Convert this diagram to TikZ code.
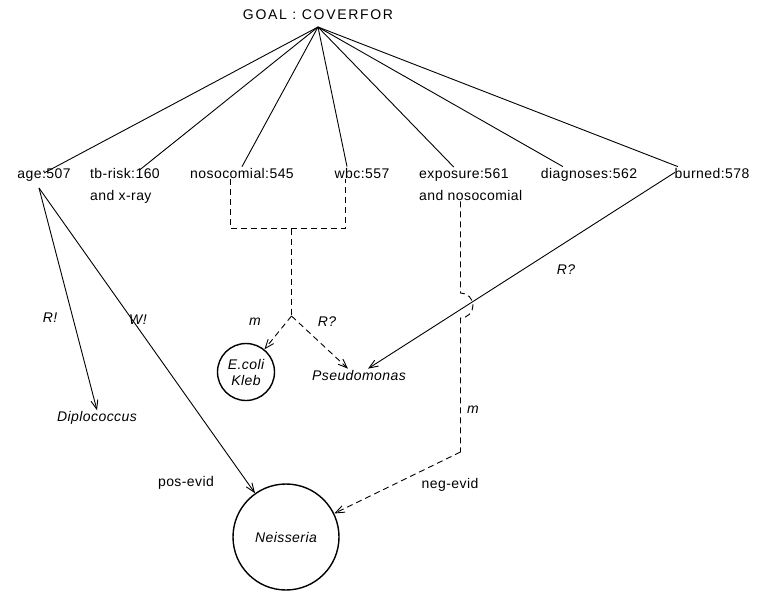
\documentclass[tikz,border=0pt]{standalone}
\usepackage{fontspec}
\setmainfont{Liberation Sans}[LetterSpace=3]
\usetikzlibrary{arrows.meta, positioning}

\begin{document}
\begin{tikzpicture}[x=1pt, y=-1pt, font=\fontsize{14}{22}\selectfont,
    >={Straight Barb[length=9pt, width=7pt]},
    lab/.style={inner sep=1pt},
    org/.style={inner sep=1pt, font=\fontsize{14}{22}\selectfont\itshape},
    rule/.style={line width=0.9pt},
    dsh/.style={line width=0.9pt, dash pattern=on 6pt off 4pt},
    cover/.style={circle, draw, line width=1.4pt, inner sep=0pt, align=center}]
    \useasboundingbox (0,0) rectangle (762,591);

    % Goal
    \node[lab, font=\fontsize{14}{22}\selectfont\addfontfeature{LetterSpace=12}] (goal) at (318,15) {GOAL : COVERFOR};
    \coordinate (apex) at (318,27);

    % Rules
    \node[lab, anchor=base] (age) at (44,178) {age:507};
    \node[lab, anchor=base west, align=left] (tbrisk) at (89,200) {tb-risk:160\\and x-ray};
    \node[lab, anchor=base] (noso) at (242,178) {nosocomial:545};
    \node[lab, anchor=base] (wbc) at (362,178) {wbc:557};
    \node[lab, anchor=base west, align=left] (expo) at (418,200) {exposure:561\\and nosocomial};
    \node[lab, anchor=base] (diag) at (589,178) {diagnoses:562};
    \node[lab, anchor=base] (burn) at (712,178) {burned:578};

    \draw[rule] (apex) -- ([yshift=-6]age.north);
    \draw[rule] (apex) -- ([xshift=15, yshift=-3]tbrisk.north);
    \draw[rule] (apex) -- (noso.north);
    \draw[rule] (apex) -- ([xshift=-15]wbc.north);
    \draw[rule] (apex) -- ([xshift=-17]expo.north);
    \draw[rule] (apex) -- ([xshift=-26]diag.north);
    \draw[rule] (apex) -- ([xshift=-34]burn.north);

    % Organisms
    \node[org] (diplo) at (97,418) {Diplococcus};
    \node[org] (pseudo) at (359,375) {Pseudomonas};
    \node[cover, minimum size=57pt, font=\fontsize{14}{16}\selectfont\itshape] (ecoli) at (246,372) {E.coli\\Kleb};
    \node[cover, minimum size=106pt, font=\fontsize{14}{16}\selectfont\itshape] (neis) at (286,537) {Neisseria};

    % Links from age
    \coordinate (agefoot) at (39,188);
    \draw[rule, ->] (agefoot) -- (diplo.north);
    \draw[rule, ->] (agefoot) -- (neis);
    \node[org] (rbang) at (50,318) {R!};
    \node[org] (wbang) at (138,320) {W!};
    \node[lab] (posev) at (186,483) {pos-evid};

    % Dashed join of nosocomial and wbc
    \coordinate (joinL) at (230.5,228.5);
    \coordinate (joinR) at (345.5,228.5);
    \coordinate (join) at (291.5,228.5);
    \coordinate (fork) at (291.5,316);
    \draw[dsh] ([xshift=-11.5]noso.south) |- (joinL) -- (joinR) |- ([xshift=-16.5]wbc.south);
    \draw[dsh] (join) -- (fork);
    \draw[dsh, ->] (fork) -- (ecoli);
    \draw[dsh, ->] (fork) -- ([xshift=-11]pseudo.north);
    \node[org] (mone) at (255,322) {m};
    \node[org] (rqone) at (327,322) {R?};

    % burned to Pseudomonas
    \draw[rule, ->] ([xshift=-37, yshift=7]burn.south) -- ([xshift=9]pseudo.north);
    \node[org] (rqtwo) at (566,270) {R?};

    % exposure to Neisseria, hopping over
    \coordinate (hopA) at (460.5,293);
    \coordinate (hopB) at (460.5,318);
    \coordinate (bend) at (460.5,452);
    \draw[dsh] ([xshift=42.5]expo.south west) -- (hopA) arc[start angle=-90, end angle=90, radius=12.5] -- (bend);
    \draw[dsh, ->] (bend) -- (neis);
    \node[org] (mtwo) at (473,410) {m};
    \node[lab] (negev) at (450,485) {neg-evid};
\end{tikzpicture}
\end{document}
